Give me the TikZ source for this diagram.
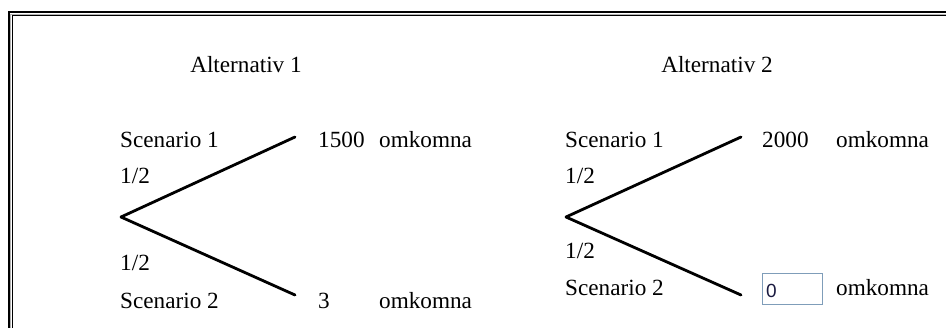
\documentclass[tikz,border=0pt]{standalone}
\usepackage{fontspec}
\setmainfont{Liberation Serif}
\newfontfamily\boxfont{Liberation Sans}
\definecolor{boxblue}{HTML}{7F9DB9}
\definecolor{digit}{HTML}{1A1A40}
\begin{document}
\begin{tikzpicture}[x=1pt,y=-1pt,
  lbl/.style={anchor=base west,inner sep=0pt,font=\fontsize{23.2}{27}\selectfont},
  ttl/.style={anchor=base,inner sep=0pt,font=\fontsize{23.2}{27}\selectfont},
  branch/.style={line width=2.8pt,line cap=round,line join=round},
  inbox/.style={draw=boxblue,line width=1.1pt,minimum width=60pt,minimum height=31pt,inner sep=0pt}]
\useasboundingbox (0,0) rectangle (946,327);
\begin{scope}
\clip (0,0) rectangle (946,327);
\draw[line width=2.6pt] (8.8,12) rectangle (990,380);
\draw[gray!60,line width=0.8pt] (10.8,14) rectangle (990,380);
\draw[line width=1.2pt] (12.6,15.8) rectangle (990,380);
\end{scope}
% Alternativ 1
\node[ttl] (t1) at (246,72) {Alternativ 1};
\node[lbl] (s11) at (120,147) {Scenario 1};
\node[lbl] (p11) at (120,183) {1/2};
\node[lbl] (p12) at (120,270) {1/2};
\node[lbl] (s12) at (120,308) {Scenario 2};
\coordinate (a1) at (121,217);
\coordinate (u1) at (295,137);
\coordinate (d1) at (295,295);
\draw[branch] (u1) -- (a1) -- (d1);
\node[lbl] (n11) at (318,147) {1500};
\node[lbl] (o11) at (379,147) {omkomna};
\node[lbl] (n12) at (318,308) {3};
\node[lbl] (o12) at (379,308) {omkomna};
% Alternativ 2
\node[ttl] (t2) at (717,72) {Alternativ 2};
\node[lbl] (s21) at (565,147) {Scenario 1};
\node[lbl] (p21) at (565,183) {1/2};
\node[lbl] (p22) at (565,258) {1/2};
\node[lbl] (s22) at (565,295) {Scenario 2};
\coordinate (a2) at (566,217);
\coordinate (u2) at (741,137);
\coordinate (d2) at (741,295);
\draw[branch] (u2) -- (a2) -- (d2);
\node[lbl] (n21) at (762,147) {2000};
\node[lbl] (o21) at (836,147) {omkomna};
\node[inbox] (box) at (792.5,289) {};
\node[anchor=base west,inner sep=0pt,text=digit,font=\boxfont\fontsize{19}{22}\selectfont] (n22) at (766,297) {0};
\node[lbl] (o22) at (836,295) {omkomna};
\end{tikzpicture}
\end{document}
